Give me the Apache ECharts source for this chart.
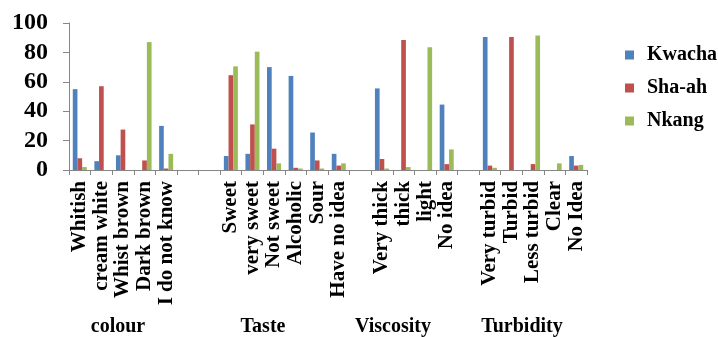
<!DOCTYPE html>
<html><head><meta charset="utf-8">
<script src="https://cdn.jsdelivr.net/npm/echarts@6/dist/echarts.min.js"></script>
<style>html,body{margin:0;padding:0;background:#fff}#c{width:718px;height:337px}</style>
</head><body><div id="c"></div>
<script>
var categories = ['Whitish','cream white','Whist brown','Dark brown','I do not know',' ','  ',
  'Sweet','very sweet','Not sweet','Alcoholic','Sour','Have no idea','   ',
  'Very thick','thick','light','No idea','    ',
  'Very turbid','Turbid','Less turbid','Clear','No Idea'];
var seriesNames = ['Kwacha','Sha-ah','Nkang'];
var kwacha = [55,6,10,0,30, null,null, 9.5,11,70,64,25.5,11, null, 55.5,0,0,44.5, null, 90.5,0,0,0,9.5];
var shaah  = [8,57,27.5,6.5,1, null,null, 64.5,31,14.5,1.5,6.5,3, null, 7.5,88.5,0,4, null, 3,90.5,4,0,3];
var nkang  = [2,0,0,87,11, null,null, 70.5,80.5,4.5,1,1,4.5, null, 1,2,83.5,14, null, 1.5,0,91.5,4.5,3.5];
var groupLabels = ['colour','Taste','Viscosity','Turbidity'];
var yTicks = [0,20,40,60,80,100];

var FONT = '"Liberation Serif","Times New Roman",serif';
var colors = ['#4F81BD','#C0504D','#9BBB59'];
var chart = echarts.init(document.getElementById('c'));
var groupX = [118, 263, 393, 522];
chart.setOption({
  animation:false,
  color: colors,
  grid:{left:69,right:131,top:23,bottom:167},
  legend:{orient:'vertical',left:620,top:40,itemWidth:9,itemHeight:9,itemGap:13,
    icon:'rect',
    textStyle:{fontFamily:FONT,fontWeight:'bold',fontSize:20,color:'#000',padding:[0,0,0,8]},
    data:seriesNames},
  xAxis:{type:'category',data:categories,
    axisLine:{lineStyle:{color:'#868686'}},
    axisTick:{show:true,length:5,lineStyle:{color:'#868686'}},
    axisLabel:{rotate:90,interval:0,margin:11,fontFamily:FONT,fontWeight:'bold',fontSize:21,color:'#000'}},
  yAxis:{type:'value',min:yTicks[0],max:yTicks[yTicks.length-1],interval:20,
    axisLine:{show:true,lineStyle:{color:'#868686'}},
    axisTick:{show:true,length:6,lineStyle:{color:'#868686'}},
    splitLine:{show:false},
    axisLabel:{margin:21,fontFamily:FONT,fontWeight:'bold',fontSize:24,color:'#000'}},
  series:[
    {name:seriesNames[0],type:'bar',data:kwacha,barGap:'0%',barCategoryGap:'35%'},
    {name:seriesNames[1],type:'bar',data:shaah,barGap:'0%',barCategoryGap:'35%'},
    {name:seriesNames[2],type:'bar',data:nkang,barGap:'0%',barCategoryGap:'35%'}
  ],
  graphic: groupLabels.map(function(t,i){
    return {type:'text',x:groupX[i],y:327,style:{text:t,fontFamily:FONT,fontWeight:'bold',fontSize:20,fill:'#000',align:'center',verticalAlign:'middle'}};
  })
});
</script></body></html>
